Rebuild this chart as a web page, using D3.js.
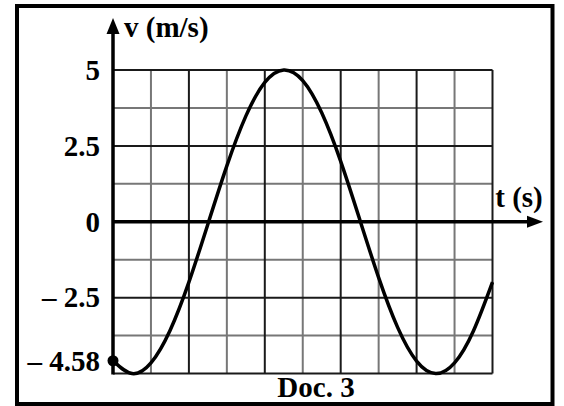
<!DOCTYPE html>
<html>
<head>
<meta charset="utf-8">
<script src="https://cdn.jsdelivr.net/npm/d3@7"></script>
<style>
  html, body { margin: 0; padding: 0; background: #fff; }
  svg { display: block; }
  text { font-family: "Liberation Serif", "Times New Roman", Times, serif; font-weight: bold; fill: #000; }
</style>
</head>
<body>
<svg id="chart" width="564" height="406"></svg>
<script>
// Data (t in grid columns, v in m/s)
const tValues = [0, 0.5, 1, 1.5, 2, 2.5, 3, 3.5, 4, 4.5, 5, 5.5, 6, 6.5, 7, 7.5, 8, 8.5, 9, 9.5, 10];
const vValues = [-4.58, -5.0, -4.65, -3.59, -1.99, -0.08, 1.84, 3.48, 4.59, 5.0, 4.65, 3.59, 1.99, 0.08, -1.84, -3.48, -4.59, -5.0, -4.65, -3.59, -1.99];
const yTickValues = [5, 2.5, 0, -2.5, -4.58];
const yTickLabels = ["5", "2.5", "0", "\u2013 2.5", "\u2013 4.58"];
const majorH = [5, 2.5, -2.5, -5];
const minorH = [3.75, 1.25, -1.25, -3.75];
const majorV = [2, 4, 6, 8, 10];
const minorV = [1, 3, 5, 7, 9];

const FONT = '"Liberation Serif", "Times New Roman", Times, serif';
const FS = "29px";
const svg = d3.select("#chart");
const x = d3.scaleLinear().domain([0, 10]).range([113, 492.5]);
const y = d3.scaleLinear().domain([-5, 5]).range([373.5, 70]);

// frame
svg.append("rect").attr("x", 17).attr("y", 6).attr("width", 535.5).attr("height", 398)
  .attr("fill", "none").attr("stroke", "#000").attr("stroke-width", 4);

const g = svg.append("g");
// grid
g.selectAll(".hmin").data(minorH).join("line")
  .attr("x1", x(0)).attr("x2", x(10)).attr("y1", d => y(d)).attr("y2", d => y(d))
  .attr("stroke", "#777").attr("stroke-width", 2);
g.selectAll(".vmin").data(minorV).join("line")
  .attr("y1", y(-5)).attr("y2", y(5)).attr("x1", d => x(d)).attr("x2", d => x(d))
  .attr("stroke", "#777").attr("stroke-width", 2);
g.selectAll(".hmaj").data(majorH).join("line")
  .attr("x1", x(0)).attr("x2", x(10)).attr("y1", d => y(d)).attr("y2", d => y(d))
  .attr("stroke", "#1a1a1a").attr("stroke-width", 2);
g.selectAll(".vmaj").data(majorV).join("line")
  .attr("y1", y(-5)).attr("y2", y(5)).attr("x1", d => x(d)).attr("x2", d => x(d))
  .attr("stroke", "#1a1a1a").attr("stroke-width", 2);

// axes lines with arrows
svg.append("line").attr("x1", x(0)).attr("x2", 530).attr("y1", y(0)).attr("y2", y(0))
  .attr("stroke", "#000").attr("stroke-width", 3.5);
svg.append("path").attr("d", `M543,${y(0)} L527,${y(0) - 6} L527,${y(0) + 6} Z`).attr("fill", "#000");
svg.append("line").attr("x1", x(0)).attr("x2", x(0)).attr("y1", y(-5) + 1).attr("y2", 32)
  .attr("stroke", "#000").attr("stroke-width", 3.5);
svg.append("path").attr("d", `M${x(0)},18 L${x(0) - 6.5},34 L${x(0) + 6.5},34 Z`).attr("fill", "#000");

// y tick labels
const yAxis = d3.axisLeft(y).tickValues(yTickValues).tickSize(0).tickPadding(13)
  .tickFormat((d, i) => yTickLabels[i]);
const ya = svg.append("g").attr("transform", `translate(${x(0)},0)`).call(yAxis)
  .attr("font-family", FONT).attr("font-size", 29);
ya.select(".domain").remove();
ya.selectAll("text").style("font-family", FONT).style("font-weight", "bold")
  .style("font-size", FS).attr("fill", "#000");

// curve
const pts = tValues.map((t, i) => [t, vValues[i]]);
const lineGen = d3.line().x(d => x(d[0])).y(d => y(d[1])).curve(d3.curveNatural);
svg.append("path").datum(pts)
  .attr("d", lineGen)
  .attr("fill", "none").attr("stroke", "#000").attr("stroke-width", 3.5);
svg.append("circle").attr("cx", x(tValues[0])).attr("cy", y(vValues[0])).attr("r", 5.5).attr("fill", "#000");

// titles
svg.append("text").attr("x", 124).attr("y", 37).style("font-family", FONT).style("font-size", FS).text("v (m/s)");
svg.append("text").attr("x", 519).attr("y", 207).attr("text-anchor", "middle").style("font-family", FONT).style("font-size", FS).text("t (s)");
svg.append("text").attr("x", 316).attr("y", 397).attr("text-anchor", "middle").style("font-family", FONT).style("font-size", FS).text("Doc. 3");
</script>
</body>
</html>
